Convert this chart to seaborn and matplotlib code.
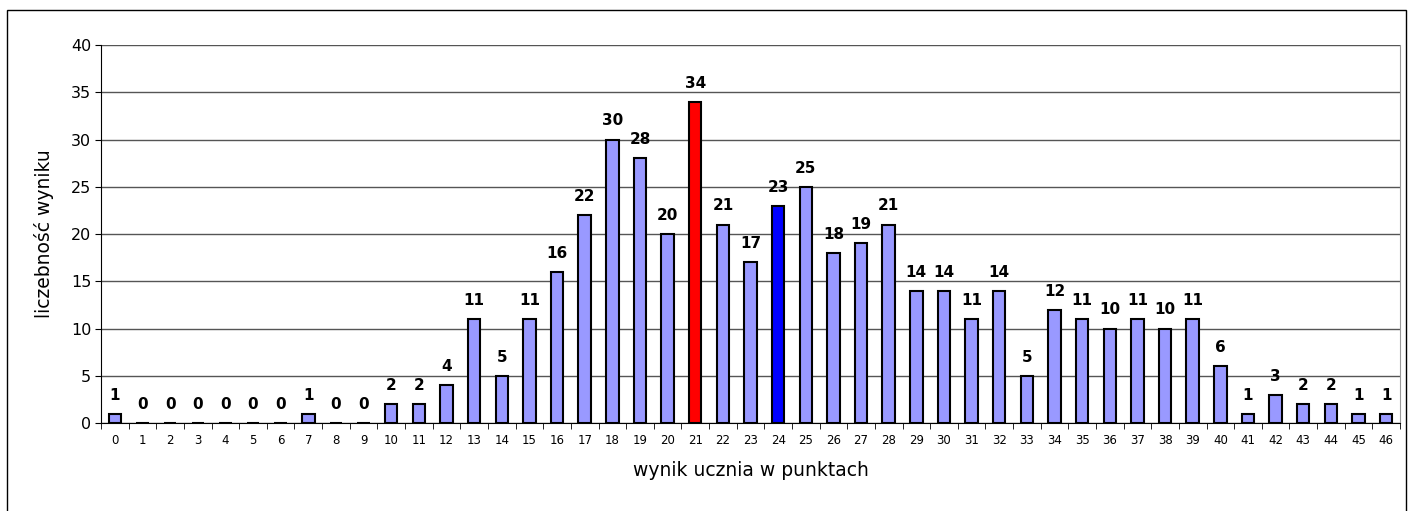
import matplotlib
matplotlib.use('Agg')
import matplotlib.pyplot as plt
import seaborn as sns
import pandas as pd
from matplotlib.patches import Rectangle
from matplotlib.ticker import FixedLocator

# === DONNÉES ===
wyniki = [str(i) for i in range(47)]
liczebnosc = [1, 0, 0, 0, 0, 0, 0, 1, 0, 0, 2, 2, 4, 11, 5, 11, 16, 22, 30, 28, 20, 34,
              21, 17, 23, 25, 18, 19, 21, 14, 14, 11, 14, 5, 12, 11, 10, 11, 10, 11, 6,
              1, 3, 2, 2, 1, 1]
wynik_max = "21"
wynik_sredni = "24"

KOLOR = "#9999FF"
KOLORY = {w: KOLOR for w in wyniki}
KOLORY[wynik_max] = "#FF0000"
KOLORY[wynik_sredni] = "#0000FF"

sns.set_style("white")
# le texte de la référence est étiré horizontalement -> police plus large
plt.rcParams["font.family"] = ["DejaVu Sans"]
plt.rcParams["text.color"] = "black"
plt.rcParams["axes.labelcolor"] = "black"
plt.rcParams["xtick.color"] = "black"
plt.rcParams["ytick.color"] = "black"

df = pd.DataFrame({"wynik": wyniki, "liczebnosc": liczebnosc})

fig = plt.figure(figsize=(14.13, 5.11), dpi=100)
ax = fig.add_axes([0.0715, 0.172, 0.9193, 0.740])

sns.barplot(data=df, x="wynik", y="liczebnosc", hue="wynik", palette=KOLORY,
            saturation=1, legend=False, width=0.45, edgecolor="black",
            linewidth=1.5, ax=ax)

for cont in ax.containers:
    ax.bar_label(cont, padding=8, fontsize=11, fontweight="bold", color="black")

ax.set_ylim(0, 40)
ax.set_xlim(-0.5, len(wyniki) - 0.5)
ax.set_yticks(range(0, 41, 5))
ax.yaxis.grid(True, color="#555555", linewidth=1)
ax.set_axisbelow(True)

ax.tick_params(axis="x", which="major", length=0, labelsize=8.5, pad=8)
ax.xaxis.set_minor_locator(FixedLocator([i - 0.5 for i in range(len(wyniki) + 1)]))
ax.tick_params(axis="x", which="minor", length=4, color="black", direction="out", bottom=True)
ax.tick_params(axis="y", length=4, color="black", direction="out", left=True, labelsize=11.5, pad=3)

ax.spines["top"].set_visible(False)
ax.spines["right"].set_color("#999999")
ax.spines["left"].set_color("black")
ax.spines["bottom"].set_color("black")

ax.set_xlabel("wynik ucznia w punktach", fontsize=13.5, labelpad=10)
ax.set_ylabel("liczebność wyniku", fontsize=13.5, labelpad=12)

fig.patches.append(Rectangle((7 / 1413, -2 / 511), 1399 / 1413, 503 / 511,
                             transform=fig.transFigure, fill=False,
                             edgecolor="black", linewidth=1))

fig.savefig("out.png", dpi=100)
